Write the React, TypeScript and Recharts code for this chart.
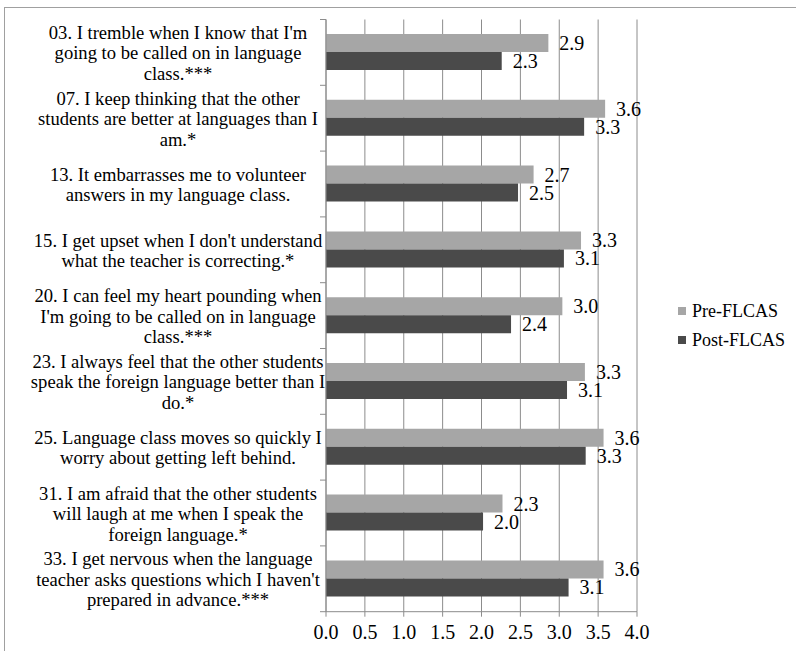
import { BarChart, Bar, XAxis, YAxis, CartesianGrid, LabelList } from 'recharts';

const items = ['03', '07', '13', '15', '20', '23', '25', '31', '33'];

const itemLines: string[][] = [
  ["03. I tremble when I know that I'm", 'going to be called on in language', 'class.***'],
  ['07. I keep thinking that the other', 'students are better at languages than I', 'am.*'],
  ['13. It embarrasses me to volunteer', 'answers in my language class.'],
  ["15. I get upset when I don't understand", 'what the teacher is correcting.*'],
  ['20. I can feel my heart pounding when', "I'm going to be called on in language", 'class.***'],
  ['23. I always feel that the other students', 'speak the foreign language better than I', 'do.*'],
  ['25. Language class moves so quickly I', 'worry about getting left behind.'],
  ['31. I am afraid that the other students', 'will laugh at me when I speak the', 'foreign language.*'],
  ['33. I get nervous when the language', "teacher asks questions which I haven't", 'prepared in advance.***'],
];

const preFlcas = [2.86, 3.59, 2.67, 3.28, 3.04, 3.33, 3.57, 2.27, 3.57];
const postFlcas = [2.26, 3.32, 2.47, 3.06, 2.38, 3.1, 3.34, 2.02, 3.12];

const xTicks = [0, 0.5, 1, 1.5, 2, 2.5, 3, 3.5, 4];

const rows = items.map((id, i) => ({ id, pre: preFlcas[i], post: postFlcas[i] }));

const W = 796;
const H = 651;
const TOP = 19.5;
const BOTTOM = 39.3;
const PLOT_LEFT = 326;
const BAND = (H - TOP - BOTTOM) / items.length;

const FONT = "'Liberation Serif', 'Times New Roman', serif";
const GRID = '#8c8c8c';
const PRE = '#a6a6a6';
const POST = '#4a4a4a';

// eslint-disable-next-line @typescript-eslint/no-explicit-any
function ItemTick({ y, index }: any) {
  const lines = itemLines[index] ?? [];
  const lh = 20.5;
  const y0 = y - ((lines.length - 1) * lh) / 2;
  const last = index === items.length - 1;
  return (
    <g>
      <text
        textAnchor="middle"
        dominantBaseline="central"
        fontFamily={FONT}
        fontSize={18.6}
        fill="#000"
      >
        {lines.map((l, i) => (
          <tspan key={i} x={178} y={y0 + i * lh}>
            {l}
          </tspan>
        ))}
      </text>
      <line x1={320} x2={PLOT_LEFT} y1={y - BAND / 2} y2={y - BAND / 2} stroke={GRID} />
      {last && (
        <line x1={320} x2={PLOT_LEFT} y1={y + BAND / 2} y2={y + BAND / 2} stroke={GRID} />
      )}
    </g>
  );
}

const fmt1 = (v: number) => Number(v).toFixed(1);

export default function App() {
  return (
    <div
      style={{
        position: 'absolute',
        left: 0,
        top: 0,
        width: W,
        height: H,
        overflow: 'hidden',
        background: '#fff',
        fontFamily: FONT,
      }}
    >
      <div
        style={{
          position: 'absolute',
          left: 4,
          top: 7,
          width: 900,
          height: 900,
          borderLeft: '1px solid #a0a0a0',
          borderTop: '1px solid #a0a0a0',
        }}
      />
      <BarChart
        width={W}
        height={H}
        data={rows}
        layout="vertical"
        margin={{ top: TOP, right: W - 637, bottom: 9.3, left: 0 }}
        barCategoryGap="22%"
        barGap={0}
        style={{ position: 'absolute', left: 0, top: 0 }}
      >
        <CartesianGrid horizontal={false} vertical stroke={GRID} />
        <XAxis
          type="number"
          domain={[0, 4]}
          ticks={xTicks}
          tickFormatter={fmt1}
          height={30}
          tickSize={5}
          tickMargin={8}
          interval={0}
          axisLine={{ stroke: GRID }}
          tickLine={{ stroke: GRID }}
          tick={{ fontSize: 20, fill: '#000', fontFamily: FONT }}
        />
        <YAxis
          type="category"
          dataKey="id"
          width={PLOT_LEFT}
          interval={0}
          tickLine={false}
          axisLine={{ stroke: GRID }}
          tick={<ItemTick />}
        />
        <Bar dataKey="pre" name="Pre-FLCAS" fill={PRE} isAnimationActive={false}>
          <LabelList
            dataKey="pre"
            position="right"
            offset={11}
            formatter={fmt1}
            fill="#000"
            fontSize={20}
            fontFamily={FONT}
          />
        </Bar>
        <Bar dataKey="post" name="Post-FLCAS" fill={POST} isAnimationActive={false}>
          <LabelList
            dataKey="post"
            position="right"
            offset={11}
            formatter={fmt1}
            fill="#000"
            fontSize={20}
            fontFamily={FONT}
          />
        </Bar>
      </BarChart>
      <div style={{ position: 'absolute', left: 678, top: 299, fontSize: 18, lineHeight: '24px' }}>
        {[
          { name: 'Pre-FLCAS', color: PRE },
          { name: 'Post-FLCAS', color: POST },
        ].map((e, i) => (
          <div key={e.name} style={{ display: 'flex', alignItems: 'center', marginTop: i ? 5 : 0 }}>
            <span style={{ width: 8, height: 8, background: e.color, marginRight: 6, display: 'inline-block' }} />
            <span>{e.name}</span>
          </div>
        ))}
      </div>
    </div>
  );
}
